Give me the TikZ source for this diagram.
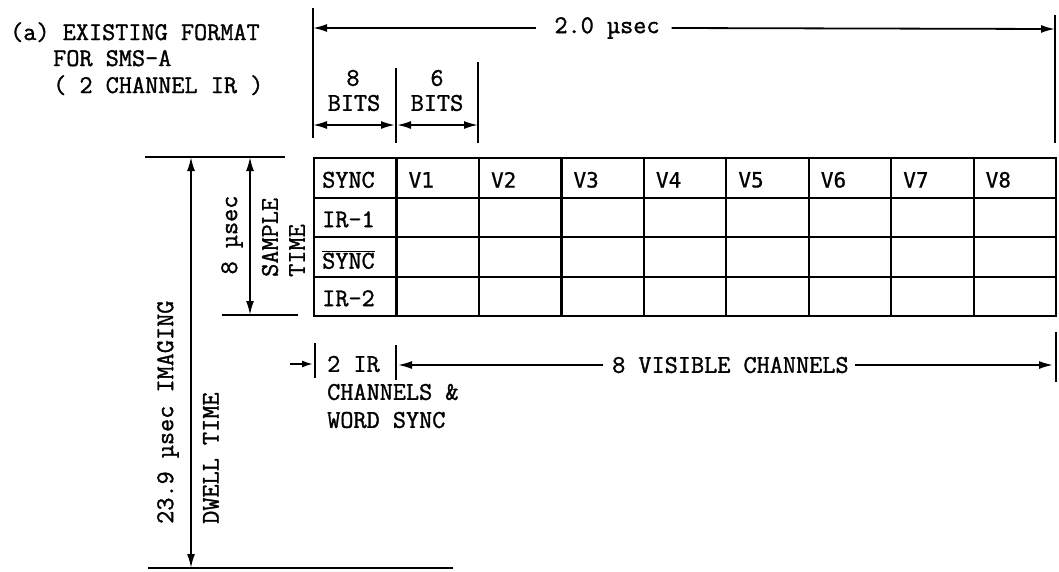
\documentclass[tikz,border=0pt]{standalone}
\usepackage{fontspec}
\newfontfamily\tw{Latin Modern Mono}[FakeBold=1.3]
\newfontfamily\vlbl{DejaVu Sans Mono}[FakeBold=0.8]
\usetikzlibrary{arrows.meta}
\begin{document}
\begin{tikzpicture}[x=1pt,y=-1pt,
  txt/.style={font=\tw\fontsize{25.5}{29}\selectfont, inner sep=0pt},
  vtxt/.style={font=\vlbl\fontsize{21}{25}\selectfont, inner sep=0pt},
  dim/.style={line width=1.8pt},
  tipb/.style={dim, {Latex[length=14pt,width=8pt]}-{Latex[length=14pt,width=8pt]}},
  tipe/.style={dim, -{Latex[length=14pt,width=8pt]}},
  cell/.style={draw, line width=2.2pt, minimum width=82.44pt, minimum height=39.5pt, inner sep=0pt, anchor=north west},
  ]
\useasboundingbox (0,0) rectangle (1059,571);

% title
\node[txt, anchor=base west] (title1) at (10,40) {(a) EXISTING FORMAT};
\node[txt, anchor=base west] (title2) at (53,66) {FOR SMS-A};
\node[txt, anchor=base west] (title3) at (53,93) {( 2 CHANNEL IR )};

% table cells
\foreach \c in {0,...,8}{
  \foreach \r in {0,...,3}{
    \node[cell] (c-\c-\r) at ({313+82.44*\c},{157+39.5*\r}) {};
  }
}
\node[txt, anchor=west] (sync) at ([xshift=9pt,yshift=-2pt]c-0-0.west) {SYNC};
\node[txt, anchor=west] (ir1) at ([xshift=9pt,yshift=-2pt]c-0-1.west) {IR-1};
\node[txt, anchor=west] (nsync) at ([xshift=9pt,yshift=-3pt]c-0-2.west) {$\overline{\mbox{\tw SYNC}}$};
\node[txt, anchor=west] (ir2) at ([xshift=9pt,yshift=-2pt]c-0-3.west) {IR-2};
\foreach \c/\v in {1/V1,2/V2,3/V3,4/V4,5/V5,6/V6,7/V7,8/V8}{
  \node[vtxt, anchor=west] (v\c) at ([xshift=13pt,yshift=-2pt]c-\c-0.west) {\v};
}

% top dimension: 2.0 usec
\coordinate (L20top) at (313,8);
\coordinate (L20bot) at (313,138);
\coordinate (R20top) at (1055,15);
\coordinate (R20bot) at (1055,143);
\draw[dim] (L20top) -- (L20bot);
\draw[dim] (R20top) -- (R20bot);
\node[txt] (t20) at (607,28) {2.0 µsec};
\coordinate (L20) at (313,28);
\coordinate (R20) at (1055,29);
\draw[tipe] ([xshift=-18pt]t20.west) -- (L20);
\draw[tipe] ([xshift=12pt]t20.east) -- (R20);

% 8 bits / 6 bits
\node[txt] (n8) at (353,78) {8};
\node[txt] (b8) at (354,103) {BITS};
\node[txt] (n6) at (437,78) {6};
\node[txt] (b6) at (437,103) {BITS};
\coordinate (M8top) at (396,68);
\coordinate (M8bot) at (396,143);
\coordinate (R6top) at (478,62);
\coordinate (R6bot) at (478,143);
\draw[dim] (M8top) -- (M8bot);
\draw[dim] (R6top) -- (R6bot);
\coordinate (a8l) at (313,125);
\coordinate (a8r) at (395,125);
\coordinate (a6l) at (397,125);
\coordinate (a6r) at (478,125);
\draw[tipb] (a8l) -- (a8r);
\draw[tipb] (a6l) -- (a6r);

% left dimensions
\coordinate (ext1a) at (145,157);
\coordinate (ext1b) at (285,157);
\coordinate (ext2a) at (222,315);
\coordinate (ext2b) at (298,315);
\coordinate (ext3a) at (148,568);
\coordinate (ext3b) at (453,568);
\draw[dim] (ext1a) -- (ext1b);
\draw[dim] (ext2a) -- (ext2b);
\draw[dim] (ext3a) -- (ext3b);
\coordinate (s8t) at (250,157);
\coordinate (s8b) at (250,315);
\draw[tipb] (s8t) -- (s8b);
\coordinate (dwt) at (191,157);
\coordinate (dwb) at (191,568);
\draw[tipb] (dwt) -- (dwb);
\node[txt, rotate=90] (u8) at (232,235) {8 µsec};
\node[txt, rotate=90, anchor=west] (sample) at (270,277) {SAMPLE};
\node[txt, rotate=90, anchor=west] (time) at (297,277) {TIME};
\node[txt, rotate=90, anchor=west] (imaging) at (168,524) {23.9 µsec IMAGING};
\node[txt, rotate=90, anchor=west] (dwell) at (211,524) {DWELL TIME};

% bottom dimensions
\coordinate (bt1a) at (315,343);
\coordinate (bt1b) at (315,378);
\coordinate (bt2a) at (396,345);
\coordinate (bt2b) at (396,380);
\coordinate (bt3a) at (1056,332);
\coordinate (bt3b) at (1056,382);
\draw[dim] (bt1a) -- (bt1b);
\draw[dim] (bt2a) -- (bt2b);
\draw[dim] (bt3a) -- (bt3b);
\coordinate (sm0) at (290,364);
\coordinate (sm1) at (313,364);
\draw[dim, -{Latex[length=11pt,width=7pt]}] (sm0) -- (sm1);
\node[txt, anchor=west] (twoir) at (327,364) {2 IR};
\node[txt, anchor=west] (chan) at (327,392) {CHANNELS \&};
\node[txt, anchor=west] (word) at (327,420) {WORD SYNC};
\node[txt, anchor=west] (vis) at (612,365) {8 VISIBLE CHANNELS};
\coordinate (va) at (398,365);
\coordinate (vb) at (1053,365);
\draw[tipe] ([xshift=-9pt]vis.west) -- (va);
\draw[tipe] ([xshift=6pt]vis.east) -- (vb);
\end{tikzpicture}
\end{document}
